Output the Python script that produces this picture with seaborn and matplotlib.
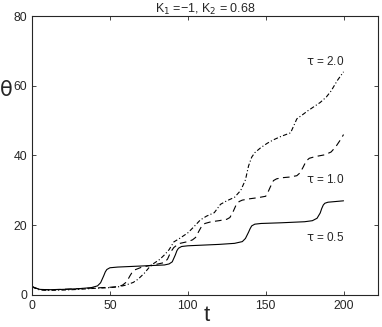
import seaborn as sns
import pandas as pd
from matplotlib import pyplot as plt

# tau = 0.5 (solid)
t_05 = [0, 2, 5, 10, 20, 30, 38, 42, 44, 46, 47, 48, 50, 55, 65, 75, 85, 88, 90, 92, 93, 94, 96, 100,
        110, 120, 130, 135, 137, 139, 140, 141, 143, 147, 160, 175, 180, 183, 185, 186, 187, 188, 190, 195, 200]
th_05 = [2.5, 2.0, 1.6, 1.5, 1.6, 1.8, 2.1, 2.6, 3.5, 5.5, 6.6, 7.3, 7.8, 8.0, 8.2, 8.4, 8.6, 8.9, 9.5, 11.5, 12.7, 13.4, 13.9, 14.1,
         14.3, 14.5, 14.8, 15.3, 16.2, 18.0, 19.0, 19.8, 20.3, 20.5, 20.7, 21.0, 21.3, 22.0, 23.5, 24.8, 25.8, 26.3, 26.6, 26.8, 27.0]

# tau = 1.0 (dashed)
t_10 = [0, 5, 10, 20, 30, 40, 50, 55, 58, 60, 62, 63, 64, 66, 70, 75, 80, 85, 87, 89, 91, 93, 95, 100, 103, 105, 107, 109, 111,
        115, 120, 125, 127, 129, 131, 133, 135, 140, 145, 150, 151, 153, 155, 157, 160, 165, 170, 172, 174, 176, 178, 182,
        188, 192, 195, 198, 200]
th_10 = [2.3, 1.6, 1.5, 1.6, 1.8, 2.0, 2.2, 2.4, 2.8, 3.5, 4.8, 5.6, 6.3, 7.2, 7.9, 8.4, 8.8, 9.3, 10.3, 12.3, 13.6, 14.3, 14.8, 15.3, 15.8, 16.5, 18.2, 19.8, 20.5,
         21.0, 21.3, 21.7, 22.2, 23.8, 25.8, 26.8, 27.2, 27.6, 27.9, 28.3, 29.0, 31.0, 32.8, 33.3, 33.6, 33.8, 34.2, 35.0, 36.6, 38.4, 39.2, 39.7,
         40.2, 41.0, 42.5, 44.5, 46.0]

# tau = 2.0 (dash-dot)
t_20 = [0, 5, 10, 20, 30, 40, 50, 55, 60, 65, 68, 72, 75, 78, 82, 85, 88, 91, 95, 100, 104, 108, 112, 117, 121, 125, 130, 134,
        137, 139, 141, 143, 147, 151, 155, 160, 166, 168, 170, 174, 177, 181, 185, 189, 192, 196, 200]
th_20 = [2.3, 1.4, 1.3, 1.4, 1.6, 1.9, 2.1, 2.3, 2.8, 3.6, 4.5, 6.2, 7.8, 9.0, 10.2, 11.5, 13.0, 15.2, 16.3, 17.8, 19.6, 21.5, 22.6, 23.6, 26.0, 27.0, 28.0, 30.0,
         33.0, 37.0, 39.5, 40.8, 42.3, 43.5, 44.5, 45.5, 46.5, 48.5, 50.5, 51.8, 52.8, 54.0, 55.2, 56.8, 58.5, 61.5, 64.0]

labels = [r"$\mathrm{\tau}$ = 2.0", r"$\mathrm{\tau}$ = 1.0", r"$\mathrm{\tau}$ = 0.5"]
label_pos = [(176, 67), (176, 33), (176, 16.5)]

sns.set_style("ticks")
plt.rcParams["font.family"] = ["Liberation Sans", "DejaVu Sans"]
plt.rcParams["mathtext.fontset"] = "dejavusans"

fig = plt.figure(figsize=(3.82, 3.27), dpi=100)
ax = fig.add_axes([0.084, 0.098, 0.905, 0.853])

sns.lineplot(x=t_05, y=th_05, ax=ax, color="black", lw=0.8, linestyle="-")
sns.lineplot(x=t_10, y=th_10, ax=ax, color="black", lw=0.8).lines[-1].set_dashes([6, 4])
sns.lineplot(x=t_20, y=th_20, ax=ax, color="black", lw=0.8).lines[-1].set_dashes([4, 2, 1, 2])

for txt, (x, y) in zip(labels, label_pos):
    ax.text(x, y, txt, fontsize=8.5, va="center")

ax.set_xlim(0, 222)
ax.set_ylim(0, 80)
ax.set_xticks([0, 50, 100, 150, 200])
ax.set_yticks([0, 20, 40, 60, 80])
ax.tick_params(direction="in", top=True, right=True, labelsize=8.8, length=3, width=0.6)
for s in ax.spines.values():
    s.set_linewidth(0.8)
ax.set_title(r"K$_1$ =−1, K$_2$ = 0.68", fontsize=9, pad=2)
ax.set_xlabel("t", fontsize=16)
ax.xaxis.set_label_coords(0.505, -0.035)
ax.set_ylabel(r"$\mathrm{\theta}$", fontsize=15, rotation=0)
ax.yaxis.set_label_coords(-0.075, 0.70)

fig.savefig("out.png", dpi=100)
